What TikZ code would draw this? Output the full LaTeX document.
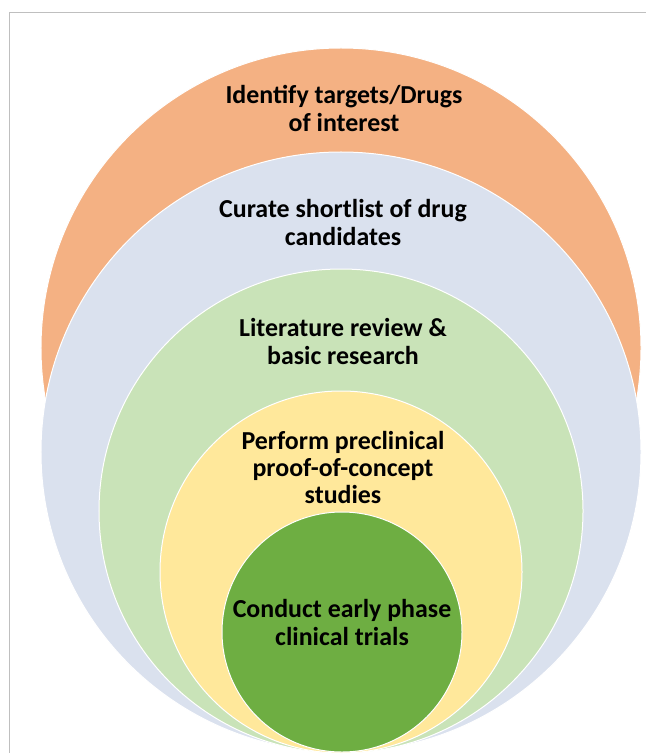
\documentclass[tikz,border=0pt]{standalone}
\usepackage{fontspec}
\setmainfont{Carlito}
\usepackage{tikz}

\definecolor{peach}{HTML}{F4B183}
\definecolor{bluegray}{HTML}{DAE1EE}
\definecolor{palegreen}{HTML}{C9E3B8}
\definecolor{paleyellow}{HTML}{FFE89B}
\definecolor{leafgreen}{HTML}{6EAE42}
\definecolor{framegray}{HTML}{BFBFBF}

\begin{document}
\begin{tikzpicture}[x=1bp,y=-1bp,
    ring/.style={circle,draw=white,line width=1bp,inner sep=0pt},
    stage/.style={align=center,inner sep=0pt,font=\bfseries\fontsize{26}{27.5}\selectfont}]
    \useasboundingbox (0,0) rectangle (646,753);

    % frame
    \coordinate (frame-top) at (646,13);
    \coordinate (frame-corner) at (9,13);
    \coordinate (frame-bottom) at (9,753);
    \draw[framegray, line width=1bp] (frame-top) -- (frame-corner) -- (frame-bottom);

    % nested rings, outermost first
    \node [ring, fill=peach, minimum size=600bp] (targets) at (341,348) {};
    \node [ring, fill=bluegray, minimum size=600bp] (shortlist) at (341,452) {};
    \node [ring, fill=palegreen, minimum size=484bp] (literature) at (341,511) {};
    \node [ring, fill=paleyellow, minimum size=362bp] (preclinical) at (341,572) {};
    \node [ring, fill=leafgreen, minimum size=240bp] (trials) at (342,632) {};

    \node [stage] (targets-text) at ([xshift=3bp,yshift=-61bp]targets.north) {Identify targets/Drugs\\of interest};
    \node [stage] (shortlist-text) at ([xshift=2bp,yshift=-71bp]shortlist.north) {Curate shortlist of drug\\candidates};
    \node [stage] (literature-text) at ([xshift=2bp,yshift=-73bp]literature.north) {Literature review \&\\basic research};
    \node [stage] (preclinical-text) at ([xshift=2bp,yshift=-77bp]preclinical.north) {Perform preclinical\\proof-of-concept\\studies};
    \node [stage] (trials-text) at ([xshift=0bp,yshift=-111bp]trials.north) {Conduct early phase\\clinical trials};

\end{tikzpicture}
\end{document}
